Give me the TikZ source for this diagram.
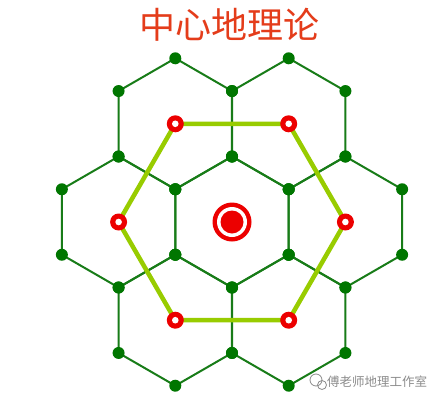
\documentclass[tikz,border=0pt]{standalone}
\usepackage{fontspec}
\newfontfamily\cjk{Noto Sans CJK SC}

\def\cellpath{+(30:65.5) -- +(90:65.5) -- +(150:65.5) -- +(210:65.5) -- +(270:65.5) -- +(330:65.5) -- cycle}
\def\celldots{+(30:65.5) circle (6pt) +(90:65.5) circle (6pt) +(150:65.5) circle (6pt) +(210:65.5) circle (6pt) +(270:65.5) circle (6pt) +(330:65.5) circle (6pt)}
\definecolor{lattice}{RGB}{24,124,24}
\colorlet{cell edge}{lattice}
\definecolor{cell dot}{RGB}{0,118,0}
\definecolor{route}{RGB}{152,204,0}
\definecolor{place}{RGB}{236,0,0}
\definecolor{heading}{RGB}{228,60,26}
\definecolor{stamp}{RGB}{140,140,140}
\tikzset{
  celledge/.style={draw=cell edge, line width=2pt, line join=round},
  routeline/.style={draw=route, line width=4.5pt, line join=round},
  corner/.style={fill=cell dot},
  titletext/.style={font=\cjk\fontsize{36}{36}\selectfont, text=heading, inner sep=0pt},
  stamptext/.style={font=\cjk\fontsize{12.5}{12.5}\selectfont, text=stamp, inner sep=0pt}
}

\begin{document}
\begin{tikzpicture}[x=1pt, y=-1pt]
  \useasboundingbox[fill=white] (0,0) rectangle (442,402);

  \coordinate (mid) at (232,222);
  \path (mid) +(0:113.4) coordinate (east)
              +(60:113.4) coordinate (se)
              +(120:113.4) coordinate (sw)
              +(180:113.4) coordinate (west)
              +(240:113.4) coordinate (nw)
              +(300:113.4) coordinate (ne);

  % hexagonal cells
  \draw[celledge] (mid) \cellpath;
  \draw[celledge] (east) \cellpath;
  \draw[celledge] (ne) \cellpath;
  \draw[celledge] (nw) \cellpath;
  \draw[celledge] (west) \cellpath;
  \draw[celledge] (sw) \cellpath;
  \draw[celledge] (se) \cellpath;

  % market area of the lower order places
  \draw[routeline] (east) -- (ne) -- (nw) -- (west) -- (sw) -- (se) -- cycle;

  \fill[corner] (mid) \celldots;
  \fill[corner] (east) \celldots;
  \fill[corner] (ne) \celldots;
  \fill[corner] (nw) \celldots;
  \fill[corner] (west) \celldots;
  \fill[corner] (sw) \celldots;
  \fill[corner] (se) \celldots;

  \fill[place] (east) circle (8.5pt) (ne) circle (8.5pt) (nw) circle (8.5pt)
               (west) circle (8.5pt) (sw) circle (8.5pt) (se) circle (8.5pt);
  \fill[white] (east) circle (3.3pt) (ne) circle (3.3pt) (nw) circle (3.3pt)
               (west) circle (3.3pt) (sw) circle (3.3pt) (se) circle (3.3pt);

  % central place
  \fill[place] (mid) circle (19.5pt);
  \fill[white] (mid) circle (15pt);
  \fill[place] (mid) circle (11.5pt);

  \node[titletext] (title) at (229,25) {中心地理论};

  \draw[stamp, line width=0.8pt] (316,380) circle (6pt);
  \draw[stamp, line width=0.8pt] (322,385) circle (4.5pt);
  \node[stamptext, anchor=west] (stamp) at (327,382) {傅老师地理工作室};
\end{tikzpicture}
\end{document}
